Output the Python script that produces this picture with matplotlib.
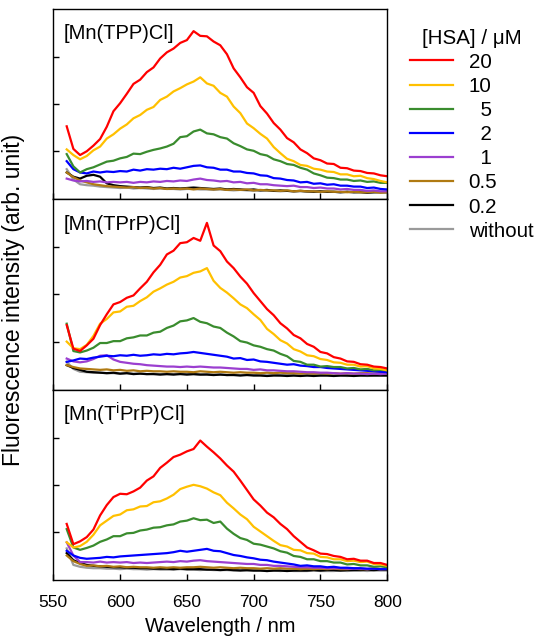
import numpy as np
import matplotlib.pyplot as plt

plt.rcParams['font.family'] = ['Liberation Sans', 'DejaVu Sans']
plt.rcParams['mathtext.default'] = 'regular'

wl = np.arange(560, 801, 5)

labels = ['20', '10', '5', '2', '1', '0.5', '0.2', 'without']
colors = ['#ff0000', '#ffc000', '#3a8c2e', '#0000ff', '#9b3fd0', '#b07a12', '#000000', '#9a9a9a']
panel_names = ['[Mn(TPP)Cl]', '[Mn(TPrP)Cl]', '[Mn(T$^{i}$PrP)Cl]']

# ---- [Mn(TPP)Cl]
tpp = {
    '20': [1.53, 1.05, 0.92, 1.00, 1.12, 1.26, 1.52, 1.85, 2.02, 2.22, 2.43, 2.52, 2.68, 2.78, 2.97, 3.10, 3.18, 3.30, 3.36, 3.55,
           3.45, 3.44, 3.33, 3.25, 3.06, 2.76, 2.57, 2.36, 2.24, 1.96, 1.80, 1.60, 1.46, 1.28, 1.19, 1.04, 0.96, 0.85, 0.81, 0.74,
           0.73, 0.65, 0.64, 0.59, 0.58, 0.54, 0.53, 0.49, 0.47],
    '10': [1.04, 0.92, 0.83, 0.90, 1.02, 1.10, 1.27, 1.36, 1.48, 1.57, 1.70, 1.77, 1.88, 1.94, 2.09, 2.16, 2.27, 2.34, 2.42, 2.48,
           2.57, 2.44, 2.39, 2.24, 2.16, 1.95, 1.81, 1.59, 1.49, 1.37, 1.27, 1.09, 0.96, 0.84, 0.79, 0.71, 0.69, 0.63, 0.61, 0.57,
           0.56, 0.51, 0.51, 0.47, 0.48, 0.43, 0.41, 0.37, 0.34],
    '5': [0.94, 0.68, 0.55, 0.62, 0.66, 0.72, 0.78, 0.80, 0.85, 0.88, 0.95, 0.94, 0.99, 1.03, 1.06, 1.10, 1.16, 1.30, 1.32, 1.42,
          1.46, 1.38, 1.36, 1.30, 1.27, 1.17, 1.11, 1.04, 1.01, 0.94, 0.91, 0.83, 0.79, 0.73, 0.71, 0.65, 0.61, 0.53, 0.49, 0.44,
          0.43, 0.40, 0.40, 0.37, 0.38, 0.35, 0.36, 0.33, 0.33],
    '2': [0.79, 0.62, 0.55, 0.53, 0.57, 0.55, 0.57, 0.56, 0.58, 0.57, 0.61, 0.59, 0.62, 0.61, 0.63, 0.62, 0.65, 0.63, 0.66, 0.69,
          0.70, 0.66, 0.65, 0.61, 0.61, 0.57, 0.57, 0.54, 0.53, 0.49, 0.48, 0.43, 0.42, 0.39, 0.38, 0.34, 0.35, 0.31, 0.32, 0.29,
          0.30, 0.27, 0.27, 0.25, 0.25, 0.22, 0.23, 0.20, 0.19],
    '1': [0.42, 0.38, 0.36, 0.37, 0.35, 0.36, 0.34, 0.35, 0.34, 0.35, 0.33, 0.35, 0.34, 0.36, 0.35, 0.37, 0.36, 0.38, 0.37, 0.40,
          0.42, 0.39, 0.38, 0.36, 0.37, 0.34, 0.35, 0.32, 0.33, 0.30, 0.30, 0.28, 0.27, 0.26, 0.27, 0.24, 0.24, 0.22, 0.23, 0.21,
          0.21, 0.19, 0.20, 0.18, 0.18, 0.16, 0.17, 0.15, 0.15],
    '0.5': [0.55, 0.45, 0.38, 0.34, 0.30, 0.28, 0.26, 0.25, 0.24, 0.23, 0.24, 0.22, 0.23, 0.21, 0.22, 0.20, 0.21, 0.20, 0.21, 0.19,
            0.21, 0.20, 0.19, 0.20, 0.18, 0.19, 0.18, 0.19, 0.17, 0.18, 0.17, 0.17, 0.16, 0.17, 0.15, 0.16, 0.15, 0.15, 0.14, 0.15,
            0.14, 0.14, 0.13, 0.14, 0.13, 0.13, 0.14, 0.12, 0.13],
    '0.2': [0.55, 0.46, 0.42, 0.48, 0.50, 0.46, 0.32, 0.28, 0.26, 0.25, 0.24, 0.23, 0.24, 0.22, 0.23, 0.21, 0.22, 0.21, 0.22, 0.23,
            0.22, 0.21, 0.20, 0.21, 0.19, 0.20, 0.19, 0.18, 0.19, 0.17, 0.18, 0.16, 0.17, 0.16, 0.15, 0.16, 0.15, 0.14, 0.15, 0.14,
            0.14, 0.13, 0.14, 0.13, 0.13, 0.12, 0.13, 0.13, 0.13],
    'without': [0.62, 0.40, 0.30, 0.28, 0.27, 0.25, 0.24, 0.23, 0.22, 0.23, 0.21, 0.22, 0.21, 0.20, 0.21, 0.20, 0.20, 0.19, 0.20, 0.20,
                0.19, 0.19, 0.18, 0.19, 0.18, 0.17, 0.18, 0.17, 0.16, 0.17, 0.16, 0.16, 0.15, 0.16, 0.15, 0.15, 0.14, 0.15, 0.14, 0.14,
                0.14, 0.13, 0.14, 0.13, 0.14, 0.13, 0.13, 0.14, 0.14],
}

# ---- [Mn(TPrP)Cl]
tprp = {
    '20': [1.35, 0.85, 0.80, 0.92, 1.06, 1.35, 1.58, 1.79, 1.84, 1.93, 1.98, 2.13, 2.27, 2.47, 2.63, 2.85, 2.93, 3.09, 3.11, 3.20,
           3.14, 3.52, 3.04, 2.92, 2.70, 2.56, 2.38, 2.23, 2.03, 1.86, 1.69, 1.56, 1.39, 1.28, 1.14, 1.07, 0.95, 0.89, 0.78, 0.75,
           0.67, 0.64, 0.58, 0.57, 0.52, 0.51, 0.47, 0.46, 0.43],
    '10': [1.00, 0.86, 0.84, 0.93, 1.12, 1.38, 1.48, 1.62, 1.64, 1.74, 1.76, 1.86, 1.94, 2.06, 2.13, 2.21, 2.27, 2.36, 2.39, 2.46,
           2.49, 2.56, 2.29, 2.14, 2.04, 1.92, 1.79, 1.71, 1.58, 1.46, 1.27, 1.16, 1.03, 0.96, 0.84, 0.79, 0.71, 0.69, 0.63, 0.61,
           0.56, 0.55, 0.51, 0.51, 0.47, 0.48, 0.43, 0.42, 0.39],
    '5': [1.38, 0.80, 0.77, 0.81, 0.87, 0.97, 0.97, 1.01, 1.01, 1.07, 1.09, 1.13, 1.13, 1.19, 1.21, 1.29, 1.34, 1.43, 1.45, 1.50,
          1.42, 1.39, 1.32, 1.29, 1.19, 1.11, 1.01, 0.98, 0.92, 0.89, 0.84, 0.81, 0.74, 0.69, 0.59, 0.57, 0.51, 0.51, 0.47, 0.48,
          0.46, 0.46, 0.43, 0.44, 0.41, 0.42, 0.39, 0.40, 0.39],
    '2': [0.57, 0.60, 0.64, 0.63, 0.66, 0.68, 0.70, 0.69, 0.71, 0.70, 0.72, 0.70, 0.71, 0.73, 0.72, 0.74, 0.73, 0.75, 0.76, 0.78,
          0.76, 0.74, 0.72, 0.70, 0.68, 0.64, 0.65, 0.61, 0.62, 0.58, 0.57, 0.55, 0.53, 0.51, 0.52, 0.49, 0.48, 0.46, 0.46, 0.44,
          0.43, 0.42, 0.41, 0.40, 0.39, 0.38, 0.37, 0.36, 0.35],
    '1': [0.64, 0.58, 0.56, 0.58, 0.63, 0.70, 0.71, 0.62, 0.57, 0.55, 0.53, 0.52, 0.50, 0.49, 0.48, 0.47, 0.47, 0.46, 0.47, 0.46,
          0.47, 0.46, 0.45, 0.45, 0.44, 0.43, 0.42, 0.42, 0.40, 0.41, 0.39, 0.39, 0.38, 0.37, 0.37, 0.36, 0.35, 0.35, 0.34, 0.34,
          0.33, 0.32, 0.33, 0.32, 0.32, 0.31, 0.32, 0.31, 0.32],
    '0.5': [0.50, 0.46, 0.43, 0.42, 0.41, 0.40, 0.41, 0.39, 0.40, 0.38, 0.39, 0.37, 0.38, 0.37, 0.37, 0.36, 0.37, 0.36, 0.36, 0.35,
            0.37, 0.36, 0.35, 0.36, 0.35, 0.34, 0.35, 0.34, 0.34, 0.33, 0.34, 0.33, 0.34, 0.33, 0.33, 0.32, 0.33, 0.32, 0.33, 0.32,
            0.33, 0.32, 0.33, 0.32, 0.33, 0.33, 0.32, 0.33, 0.33],
    '0.2': [0.50, 0.44, 0.40, 0.36, 0.35, 0.34, 0.33, 0.34, 0.32, 0.33, 0.31, 0.32, 0.31, 0.31, 0.30, 0.31, 0.30, 0.31, 0.30, 0.31,
            0.30, 0.30, 0.29, 0.30, 0.29, 0.29, 0.28, 0.29, 0.28, 0.28, 0.27, 0.28, 0.28, 0.27, 0.28, 0.27, 0.28, 0.27, 0.28, 0.28,
            0.27, 0.28, 0.28, 0.27, 0.28, 0.28, 0.28, 0.28, 0.28],
    'without': [0.57, 0.42, 0.36, 0.35, 0.34, 0.34, 0.33, 0.33, 0.32, 0.33, 0.32, 0.32, 0.31, 0.32, 0.31, 0.31, 0.31, 0.32, 0.31, 0.31,
                0.30, 0.31, 0.30, 0.30, 0.29, 0.30, 0.29, 0.30, 0.29, 0.29, 0.28, 0.29, 0.28, 0.29, 0.28, 0.28, 0.28, 0.29, 0.28, 0.28,
                0.28, 0.28, 0.27, 0.28, 0.28, 0.27, 0.28, 0.28, 0.28],
}

# ---- [Mn(TiPrP)Cl]
tiprp = {
    '20': [1.17, 0.74, 0.80, 0.89, 1.05, 1.35, 1.57, 1.74, 1.81, 1.80, 1.86, 1.94, 2.09, 2.18, 2.36, 2.47, 2.59, 2.64, 2.71, 2.76,
           2.94, 2.81, 2.69, 2.56, 2.41, 2.28, 2.09, 1.89, 1.69, 1.56, 1.41, 1.31, 1.17, 1.06, 0.91, 0.79, 0.67, 0.61, 0.54, 0.53,
           0.49, 0.47, 0.42, 0.43, 0.39, 0.39, 0.34, 0.34, 0.30],
    '10': [0.78, 0.67, 0.70, 0.79, 0.94, 1.14, 1.24, 1.34, 1.37, 1.46, 1.48, 1.54, 1.55, 1.63, 1.65, 1.71, 1.79, 1.91, 1.96, 2.00,
           1.97, 1.92, 1.84, 1.78, 1.62, 1.50, 1.37, 1.27, 1.11, 1.01, 0.91, 0.81, 0.72, 0.69, 0.62, 0.61, 0.55, 0.54, 0.47, 0.46,
           0.42, 0.42, 0.38, 0.39, 0.36, 0.37, 0.32, 0.31, 0.28],
    '5': [1.06, 0.67, 0.62, 0.66, 0.71, 0.79, 0.84, 0.91, 0.91, 0.97, 0.98, 1.03, 1.05, 1.09, 1.10, 1.14, 1.16, 1.22, 1.24, 1.29,
          1.25, 1.26, 1.19, 1.22, 1.07, 0.96, 0.87, 0.83, 0.75, 0.73, 0.69, 0.65, 0.59, 0.56, 0.49, 0.47, 0.42, 0.42, 0.38, 0.38,
          0.35, 0.35, 0.31, 0.32, 0.29, 0.29, 0.26, 0.27, 0.25],
    '2': [0.60, 0.50, 0.45, 0.43, 0.44, 0.45, 0.47, 0.46, 0.48, 0.49, 0.50, 0.51, 0.52, 0.53, 0.54, 0.55, 0.57, 0.60, 0.58, 0.60,
          0.62, 0.64, 0.60, 0.59, 0.55, 0.51, 0.49, 0.46, 0.44, 0.41, 0.40, 0.37, 0.35, 0.33, 0.31, 0.28, 0.29, 0.27, 0.27, 0.25,
          0.26, 0.24, 0.24, 0.23, 0.23, 0.22, 0.22, 0.21, 0.21],
    '1': [0.78, 0.50, 0.36, 0.36, 0.35, 0.37, 0.35, 0.36, 0.35, 0.36, 0.34, 0.35, 0.34, 0.35, 0.36, 0.37, 0.36, 0.38, 0.37, 0.39,
          0.40, 0.38, 0.37, 0.36, 0.35, 0.34, 0.33, 0.32, 0.32, 0.30, 0.30, 0.28, 0.28, 0.27, 0.26, 0.25, 0.25, 0.24, 0.24, 0.23,
          0.23, 0.23, 0.22, 0.22, 0.22, 0.21, 0.22, 0.21, 0.22],
    '0.5': [0.50, 0.38, 0.32, 0.28, 0.29, 0.27, 0.28, 0.26, 0.27, 0.25, 0.26, 0.25, 0.25, 0.24, 0.25, 0.24, 0.25, 0.24, 0.25, 0.25,
            0.26, 0.25, 0.24, 0.25, 0.24, 0.23, 0.24, 0.23, 0.23, 0.22, 0.23, 0.22, 0.23, 0.22, 0.22, 0.21, 0.22, 0.21, 0.22, 0.21,
            0.22, 0.21, 0.21, 0.22, 0.21, 0.21, 0.22, 0.21, 0.21],
    '0.2': [0.55, 0.40, 0.34, 0.30, 0.28, 0.27, 0.26, 0.25, 0.25, 0.24, 0.24, 0.23, 0.23, 0.22, 0.22, 0.22, 0.21, 0.22, 0.21, 0.21,
            0.21, 0.20, 0.20, 0.19, 0.20, 0.19, 0.18, 0.19, 0.18, 0.18, 0.17, 0.18, 0.18, 0.17, 0.18, 0.18, 0.18, 0.19, 0.18, 0.19,
            0.19, 0.18, 0.19, 0.19, 0.19, 0.20, 0.19, 0.20, 0.20],
    'without': [0.65, 0.30, 0.26, 0.24, 0.23, 0.23, 0.22, 0.22, 0.21, 0.22, 0.21, 0.21, 0.20, 0.21, 0.20, 0.20, 0.20, 0.21, 0.20, 0.20,
                0.19, 0.20, 0.19, 0.19, 0.19, 0.18, 0.19, 0.18, 0.18, 0.18, 0.17, 0.18, 0.17, 0.18, 0.17, 0.17, 0.17, 0.18, 0.17, 0.17,
                0.17, 0.18, 0.17, 0.18, 0.18, 0.17, 0.18, 0.18, 0.18],
}

panels = [tpp, tprp, tiprp]

fig, axes = plt.subplots(3, 1, figsize=(5.5, 6.43), dpi=100, sharex=True)
fig.subplots_adjust(left=0.097, right=0.704, top=0.986, bottom=0.098, hspace=0)

for ax, data, name in zip(axes, panels, panel_names):
    # draw lowest concentration first so red ends on top
    for lab, col in list(zip(labels, colors))[::-1]:
        ax.plot(wl, data[lab], color=col, lw=1.6, label=lab)
    ax.set_xlim(550, 800)
    ax.set_ylim(-0.02, 4.02)
    ax.set_yticks([1, 2, 3])
    ax.set_yticklabels([])
    ax.set_xticks([550, 600, 650, 700, 750, 800])
    ax.tick_params(direction='in', length=4.5, width=1, labelsize=12.5)
    ax.tick_params(axis='x', pad=11)
    ax.text(0.03, 0.87, name, transform=ax.transAxes, fontsize=14.5, va='center')
    for s in ax.spines.values():
        s.set_linewidth(1)

axes[-1].set_xlabel('Wavelength / nm', fontsize=14.5, labelpad=5)
fig.text(0.025, 0.533, 'Fluorescence intensity (arb. unit)', rotation=90,
         fontsize=16.5, va='center', ha='center')

handles, labs = axes[0].get_legend_handles_labels()
handles = handles[::-1]
leg_labels = ['20', '10', '  5', '  2', '  1', '0.5', '0.2', 'without']
fig.legend(handles, leg_labels, title='[HSA] / \u03bcM', loc='upper left',
           bbox_to_anchor=(0.738, 0.962), frameon=False, fontsize=14.8,
           title_fontsize=14.8, handlelength=2.1, labelspacing=0.25, handletextpad=0.75,
           borderaxespad=0, borderpad=0.2)

fig.savefig('out.png', dpi=100)
